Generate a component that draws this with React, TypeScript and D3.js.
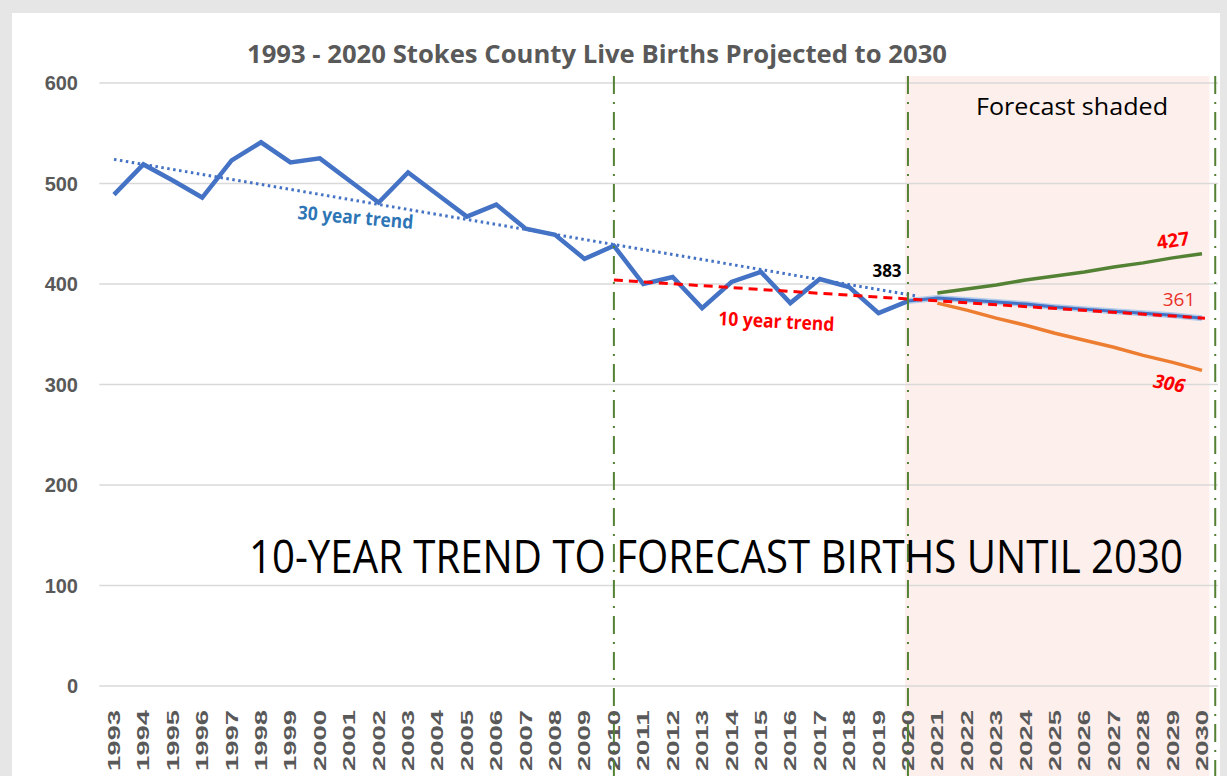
import React from "react";
import * as d3 from "d3";

// Stokes County live births
const histYears = d3.range(1993, 2021);
const births = [489, 519, 503, 486, 523, 541, 521, 525, 503, 481, 511, 489, 467, 479,
  455, 449, 425, 438, 400, 407, 376, 402, 412, 381, 405, 397, 371, 383];

// forecasts 2021-2030
const fcYears = d3.range(2021, 2031);
const fcHigh = [391, 395, 399, 404, 408, 412, 417, 421, 426, 430];
const fcMid = [386, 384, 382, 380, 377, 375, 373, 371, 369, 366];
const fcLow = [381, 374, 366, 359, 351, 344, 337, 329, 322, 314];

// trend end points [year, value]
const trend30: [number, number][] = [[1993, 524], [2020.3, 388]];
const trend10: [number, number][] = [[2010, 404], [2030.1, 366]];

const tickYears = d3.range(1993, 2031);
const yTicks = [0, 100, 200, 300, 400, 500, 600];
const markerYears = [2010, 2020, 2030.45];

const W = 1227, H = 776;

export default function App() {
  const x = d3.scaleLinear().domain([1993, 2030]).range([114, 1202]);
  const y = d3.scaleLinear().domain([0, 600]).range([686, 83]);

  const line = d3.line<[number, number]>().x(d => x(d[0])).y(d => y(d[1]));

  const hist = histYears.map((yr, i) => [yr, births[i]] as [number, number]);
  const mid = [[2020, births[births.length - 1]] as [number, number]].concat(
    fcYears.map((yr, i) => [yr, fcMid[i]] as [number, number]));
  const high = fcYears.map((yr, i) => [yr, fcHigh[i]] as [number, number]);
  const low = fcYears.map((yr, i) => [yr, fcLow[i]] as [number, number]);

  const grey = "#595959";
  const green = "#548235";

  return (
    <div style={{ position: "absolute", left: 0, top: 0 }}>
      <svg width={W} height={H} style={{ display: "block" }}>
        <rect width={W} height={H} fill="#e6e6e6" />
        <rect x={12} y={13} width={1208} height={H - 13} fill="#ffffff" />

        {/* forecast shading */}
        <rect x={x(2019.9)} y={y(607)} width={x(2030.25) - x(2019.9)} height={H - y(607)} fill="#fcefec" />

        {/* grid */}
        {yTicks.map(t => (
          <line key={t} x1={x(1992.5)} x2={1218} y1={y(t)} y2={y(t)} stroke="#d9d9d9" strokeWidth={1.5} />
        ))}
        {yTicks.map(t => (
          <text key={"l" + t} x={78} y={y(t)} dy="0.35em" textAnchor="end" fontFamily="Liberation Sans, Arial"
            fontWeight="bold" fontSize={20} fill={grey}>{t}</text>
        ))}

        {/* x labels */}
        {tickYears.map(yr => (
          <text key={yr} transform={`translate(${x(yr) + 6},${710}) rotate(-90)`} textAnchor="end"
            fontFamily="Liberation Sans, Arial" fontWeight="bold" fontSize={16} fill={grey}
            textLength={61} lengthAdjust="spacingAndGlyphs">{yr}</text>
        ))}

        {/* title */}
        <text x={247} y={63} fontFamily="Open Sans" fontWeight="bold" fontSize={25} fill={grey}
          textLength={700} lengthAdjust="spacingAndGlyphs">1993 - 2020 Stokes County Live Births Projected to 2030</text>

        <text x={976} y={115} fontFamily="Open Sans" fontSize={24} fill="#000"
          textLength={192} lengthAdjust="spacingAndGlyphs">Forecast shaded</text>

        {/* trends */}
        <path d={line(trend30) || ""} fill="none" stroke="#4472c4" strokeWidth={3} strokeDasharray="2.5 3.5" />

        {/* history */}
        <path d={line(hist) || ""} fill="none" stroke="#4472c4" strokeWidth={4.5} strokeLinejoin="miter" />

        {/* forecasts */}
        <path d={line(high) || ""} fill="none" stroke={green} strokeWidth={3.5} />
        <path d={line(low) || ""} fill="none" stroke="#ed7d31" strokeWidth={3.5} />
        <path d={line(mid) || ""} fill="none" stroke="#b4cdea" strokeWidth={6} />
        <path d={line(mid) || ""} fill="none" stroke="#4472c4" strokeWidth={3} />
        <path d={line(trend10) || ""} fill="none" stroke="#ff0000" strokeWidth={3} strokeDasharray="9 6" />

        {/* marker lines */}
        {markerYears.map(m => (
          <line key={m} x1={x(m)} x2={x(m)} y1={y(607)} y2={H} stroke={green} strokeWidth={2}
            strokeDasharray="18 8 2 8" />
        ))}

        {/* labels */}
        <text transform={`translate(355,224) rotate(5)`} textAnchor="middle" fontFamily="Open Sans" fontWeight="bold"
          fontSize={19} fill="#2e75b6" textLength={116} lengthAdjust="spacingAndGlyphs">30 year trend</text>
        <text transform={`translate(776,328) rotate(3)`} textAnchor="middle" fontFamily="Open Sans" fontWeight="bold"
          fontSize={19} fill="#ff0000" textLength={116} lengthAdjust="spacingAndGlyphs">10 year trend</text>
        <text x={887} y={277} textAnchor="middle" fontFamily="Open Sans" fontWeight="bold" fontSize={17} fill="#000">{births[births.length - 1]}</text>
        <text transform={`translate(1174,247) rotate(-8)`} textAnchor="middle" fontFamily="Open Sans" fontWeight="bold"
          fontSize={19} fill="#ff0000">427</text>
        <text x={1179} y={306} textAnchor="middle" fontFamily="Open Sans" fontSize={19} fill="#e8302a">361</text>
        <text transform={`translate(1168,390) rotate(10)`} textAnchor="middle" fontFamily="Open Sans" fontWeight="bold"
          fontStyle="italic" fontSize={19} fill="#ff0000">306</text>

        <text x={249} y={573} fontFamily="Open Sans" fontSize={46} fill="#000"
          textLength={934} lengthAdjust="spacingAndGlyphs">10-YEAR TREND TO FORECAST BIRTHS UNTIL 2030</text>
      </svg>
    </div>
  );
}
